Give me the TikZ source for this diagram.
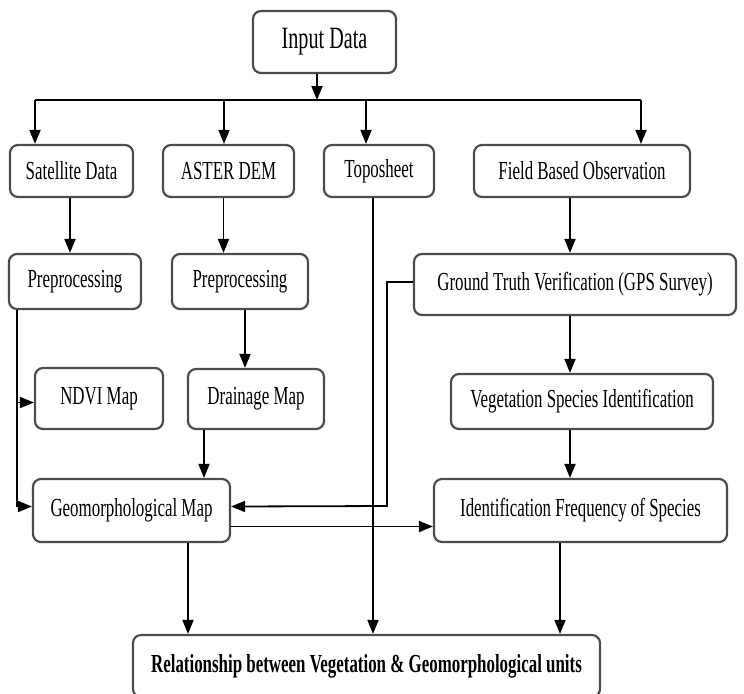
\documentclass[tikz,border=0pt]{standalone}
\usepackage{fontspec}
\setmainfont{Liberation Serif}[FakeStretch=0.65]
\usetikzlibrary{arrows.meta}

\begin{document}
\begin{tikzpicture}[x=0.5pt,y=-0.5pt,
  box/.style={draw=black!70, line width=1.1pt, rounded corners=4pt, inner sep=0pt, font=\fontsize{13}{15}\selectfont},
  arr/.style={-{Triangle[length=7pt,width=5.5pt]}, line width=0.9pt}]
\useasboundingbox (0,0) rectangle (744,693);
% boxes
\node[box, minimum width=71.5pt, minimum height=31pt, font=\fontsize{15.5}{17}\selectfont] (inp) at (324.5,42) {Input Data};
\node[box, minimum width=61.5pt, minimum height=26pt] (sat) at (71.5,171) {Satellite Data};
\node[box, minimum width=65.5pt, minimum height=26pt] (aster) at (228.5,171) {ASTER DEM};
\node[box, minimum width=55pt, minimum height=26pt] (topo) at (379,171) {Toposheet};
\node[box, minimum width=108pt, minimum height=26pt] (field) at (582,171) {Field Based Observation};
\node[box, minimum width=66pt, minimum height=27.5pt] (pre1) at (75,281.5) {Preprocessing};
\node[box, minimum width=68pt, minimum height=27.5pt] (pre2) at (240,281.5) {Preprocessing};
\node[box, minimum width=161pt, minimum height=30.5pt] (ground) at (575,284.5) {Ground Truth Verification (GPS Survey)};
\node[box, minimum width=64pt, minimum height=30.5pt] (ndvi) at (99,398.5) {NDVI Map};
\node[box, minimum width=68pt, minimum height=30pt] (drain) at (256,399) {Drainage Map};
\node[box, minimum width=131pt, minimum height=27.5pt] (veg) at (582,401.5) {Vegetation Species Identification};
\node[box, minimum width=98.5pt, minimum height=31.5pt] (geo) at (131.5,510.5) {Geomorphological Map};
\node[box, minimum width=146.5pt, minimum height=31.5pt] (ident) at (580.5,510.5) {Identification Frequency of Species};
\node[box, minimum width=233.5pt, minimum height=31pt, font=\fontsize{13}{15}\selectfont\bfseries] (rel) at (366.5,666) {Relationship between Vegetation \& Geomorphological units};
% bus
\coordinate (split) at (317,100);
\coordinate (b1) at (35,100);
\coordinate (b2) at (224,100);
\coordinate (b3) at (366,100);
\coordinate (b4) at (641,100);
\draw[arr] (inp.south -| split) -- (split);
\draw[line width=0.9pt] (b1) -- (b4);
\draw[arr] (b1) -- (b1 |- sat.north);
\draw[arr] (b2) -- (b2 |- aster.north);
\draw[arr] (b3) -- (b3 |- topo.north);
\draw[arr] (b4) -- (b4 |- field.north);
% left side
\draw[arr] ([xshift=-0.75pt]sat.south) -- ([xshift=-0.75pt]sat.south |- pre1.north);
\draw[arr] ([xshift=-2.5pt]aster.south) -- ([xshift=-2.5pt]aster.south |- pre2.north);
\draw[arr] ([xshift=2.5pt]pre2.south) -- ([xshift=2.5pt]pre2.south |- drain.north);
\draw[arr] (drain.south -| 204,0) -- (geo.north -| 204,0);
\draw[arr] (pre1.south -| 17,0) |- ([yshift=2pt]geo.west);
\draw[arr] ([yshift=-2pt]ndvi.west -| 17,0) -- ([yshift=-2pt]ndvi.west);
% right side
\draw[arr] (field.south -| 570,0) -- (ground.north -| 570,0);
\draw[arr] (ground.south -| 570,0) -- (veg.north -| 570,0);
\draw[arr] (veg.south -| 570,0) -- (ident.north -| 570,0);
\draw[arr] ([yshift=1.25pt]ground.west) -| (387,506) -- ([yshift=2pt]geo.east);
\draw[arr] ([yshift=-8pt]geo.east) -- ([yshift=-8pt]ident.west);
% to the result
\draw[arr] (geo.south -| 188,0) -- (rel.north -| 188,0);
\draw[arr] (topo.south -| 373,0) -- (rel.north -| 373,0);
\draw[arr] (ident.south -| 560,0) -- (rel.north -| 560,0);
\end{tikzpicture}
\end{document}
